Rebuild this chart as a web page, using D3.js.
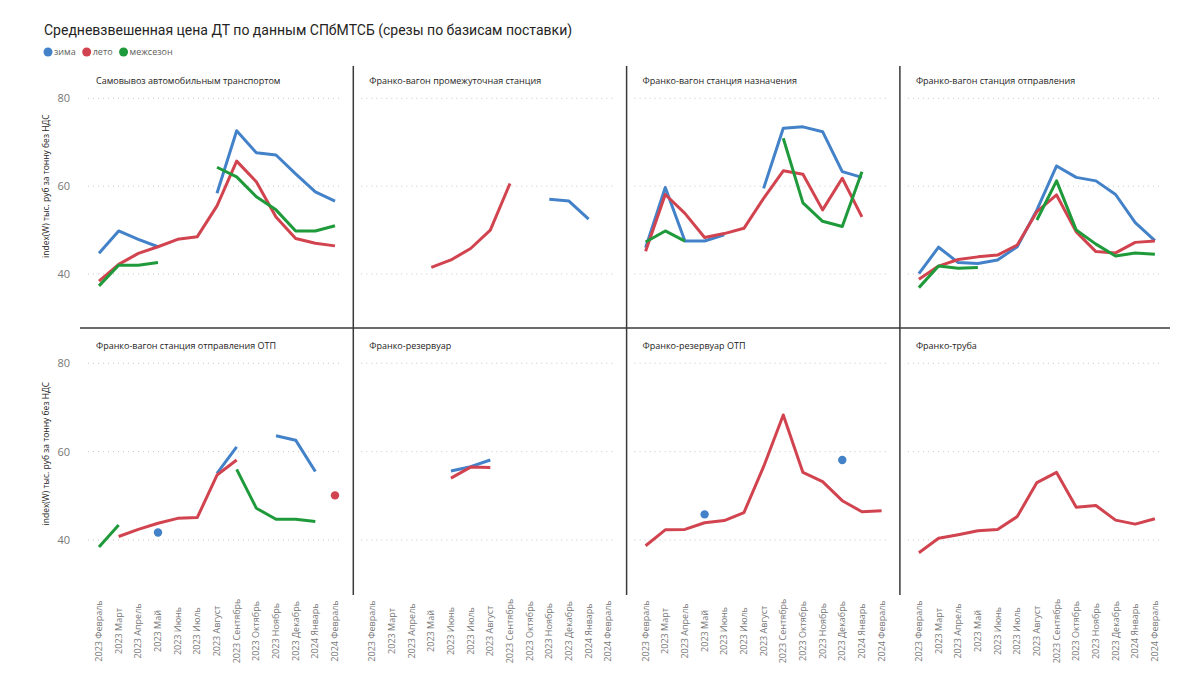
<!DOCTYPE html>
<html>
<head>
<meta charset="utf-8">
<script src="https://cdn.jsdelivr.net/npm/d3@7"></script>
<style>
  body { margin: 0; background: #fff; }
  svg { font-family: "Open Sans", "DejaVu Sans", sans-serif; }
</style>
</head>
<body>
<svg id="root" width="1200" height="694"></svg>
<script>
// months on the x axis
const months = ["2023 Февраль", "2023 Март", "2023 Апрель", "2023 Май", "2023 Июнь", "2023 Июль",
  "2023 Август", "2023 Сентябрь", "2023 Октябрь", "2023 Ноябрь", "2023 Декабрь", "2024 Январь", "2024 Февраль"];

const seasons = ["зима", "лето", "межсезон"];
const yTicks = [40, 60, 80];

const panelTitles = [
  "Самовывоз автомобильным транспортом",
  "Франко-вагон промежуточная станция",
  "Франко-вагон станция назначения",
  "Франко-вагон станция отправления",
  "Франко-вагон станция отправления ОТП",
  "Франко-резервуар",
  "Франко-резервуар ОТП",
  "Франко-труба"
];

// values per panel: зима / лето / межсезон (null = no data)
const p1Zima = [44.7, 49.8, 47.9, 46.2, null, null, 58.4, 72.6, 67.6, 67.1, 62.8, 58.7, 56.6];
const p1Leto = [38.4, 42.2, 44.7, 46.2, 47.9, 48.5, 55.5, 65.7, 61.0, 53.0, 48.1, 47.0, 46.4];
const p1Mezh = [37.3, 42.0, 42.0, 42.6, null, null, 64.3, 62.1, 57.6, 54.6, 49.8, 49.8, 51.0];

const p2Zima = [null, null, null, null, null, null, null, null, null, 57.0, 56.6, 52.5, null];
const p2Leto = [null, null, null, 41.5, 43.2, 45.8, 50.0, 60.6, null, null, null, null, null];
const p2Mezh = [null, null, null, null, null, null, null, null, null, null, null, null, null];

const p3Zima = [46.0, 59.7, 47.5, 47.5, 48.9, null, 59.5, 73.2, 73.5, 72.4, 63.3, 62.0, null];
const p3Leto = [45.2, 58.1, 53.8, 48.3, 49.2, 50.4, 57.2, 63.5, 62.7, 54.6, 61.8, 53.0, null];
const p3Mezh = [47.3, 49.8, 47.5, null, null, null, null, 70.9, 56.2, 52.0, 50.8, 63.3, null];

const p4Zima = [40.1, 46.1, 42.6, 42.4, 43.2, 46.2, 54.6, 64.6, 62.0, 61.2, 58.1, 51.7, 47.6];
const p4Leto = [38.8, 41.8, 43.3, 43.9, 44.3, 46.6, 54.2, 58.0, 49.6, 45.1, 44.8, 47.2, 47.5];
const p4Mezh = [36.9, 41.8, 41.3, 41.5, null, null, 52.3, 61.2, 50.0, 46.8, 44.1, 44.8, 44.5];

const p5Zima = [null, null, null, 41.7, null, null, 55.1, 61.1, null, 63.6, 62.6, 55.5, null];
const p5Leto = [null, 40.8, 42.4, 43.8, 44.9, 45.1, 54.7, 58.1, null, null, null, null, 50.1];
const p5Mezh = [38.4, 43.4, null, null, null, null, null, 56.0, 47.2, 44.7, 44.7, 44.2, null];

const p6Zima = [null, null, null, null, 55.6, 56.6, 58.1, null, null, null, null, null, null];
const p6Leto = [null, null, null, null, 54.0, 56.5, 56.4, null, null, null, null, null, null];
const p6Mezh = [null, null, null, null, null, null, null, null, null, null, null, null, null];

const p7Zima = [null, null, null, 45.8, null, null, null, null, null, null, 58.1, null, null];
const p7Leto = [38.7, 42.3, 42.4, 43.9, 44.4, 46.2, 56.6, 68.3, 55.3, 53.2, 48.9, 46.4, 46.6];
const p7Mezh = [null, null, null, null, null, null, null, null, null, null, null, null, null];

const p8Zima = [null, null, null, null, null, null, null, null, null, null, null, null, null];
const p8Leto = [37.1, 40.4, 41.2, 42.1, 42.4, 45.3, 53.0, 55.3, 47.4, 47.8, 44.5, 43.6, 44.8];
const p8Mezh = [null, null, null, null, null, null, null, null, null, null, null, null, null];

const panelSeries = [
  [p1Zima, p1Leto, p1Mezh], [p2Zima, p2Leto, p2Mezh], [p3Zima, p3Leto, p3Mezh], [p4Zima, p4Leto, p4Mezh],
  [p5Zima, p5Leto, p5Mezh], [p6Zima, p6Leto, p6Mezh], [p7Zima, p7Leto, p7Mezh], [p8Zima, p8Leto, p8Mezh]
];

const color = d3.scaleOrdinal().domain(seasons).range(["#4382c9", "#d1444f", "#1f9a3b"]);

const svg = d3.select("#root");
const colW = 273.3;
const gridLeft = 80;
const rows = [{ top: 66, bottom: 328, y80: 98.3, y40: 274 }, { top: 328, bottom: 595, y80: 363.3, y40: 540 }];

// title + legend
svg.append("text").attr("x", 44).attr("y", 35).attr("font-size", 14).attr("fill", "#252423")
  .attr("font-family", "Roboto, Open Sans, sans-serif")
  .text("Средневзвешенная цена ДТ по данным СПбМТСБ (срезы по базисам поставки)");

const legend = svg.append("g").attr("transform", "translate(48,52)");
let lx = 0;
seasons.forEach((s) => {
  legend.append("circle").attr("cx", lx).attr("cy", 0).attr("r", 4.5).attr("fill", color(s));
  const t = legend.append("text").attr("x", lx + 6).attr("y", 3).attr("font-size", 9).attr("fill", "#605e5c").text(s);
  lx += t.node().getComputedTextLength() + 17;
});

panelTitles.forEach((title, p) => {
  const c = p % 4, r = Math.floor(p / 4);
  const row = rows[r];
  const left = gridLeft + c * colW;

  const x = d3.scalePoint().domain(months).range([left + 19, left + 255]);
  const y = d3.scaleLinear().domain([40, 80]).range([row.y40, row.y80]);

  const g = svg.append("g");

  // dotted gridlines
  g.selectAll(".grid").data(yTicks).enter().append("line")
    .attr("x1", left + 8).attr("x2", left + 263)
    .attr("y1", (d) => y(d)).attr("y2", (d) => y(d))
    .attr("stroke", "#c8c6c4").attr("stroke-width", 1).attr("stroke-dasharray", "1,4");

  g.append("text").attr("x", left + 16).attr("y", row.top + (r === 0 ? 18 : 21))
    .attr("font-size", 9).attr("fill", "#252423").text(title);

  // y axis only on first column
  if (c === 0) {
    const ya = d3.axisLeft(y).tickValues(yTicks).tickSize(0).tickPadding(8);
    svg.append("g").attr("transform", `translate(${left - 2},0)`).call(ya)
      .call((a) => a.select(".domain").remove())
      .selectAll("text").attr("font-size", 11).attr("fill", "#777")
      .attr("font-family", "Open Sans, DejaVu Sans, sans-serif");
    svg.append("text")
      .attr("transform", `translate(49,${(row.y80 + row.y40) / 2 + (r === 0 ? 0 : 2)}) rotate(-90)`)
      .attr("text-anchor", "middle").attr("font-size", 8.5).attr("fill", "#252423")
      .text("index(W) тыс. руб за тонну без НДС");
  }

  // x axis labels on bottom row
  if (r === 1) {
    svg.append("g").selectAll("text").data(months).enter().append("text")
      .attr("transform", (d) => `translate(${x(d) + 3},631) rotate(-90)`)
      .attr("text-anchor", "middle").attr("font-size", 9).attr("fill", "#777").text((d) => d);
  }

  const line = d3.line().defined((d) => d.v !== null).x((d) => x(d.m)).y((d) => y(d.v));

  panelSeries[p].forEach((vals, si) => {
    const pts = vals.map((v, i) => ({ m: months[i], v: v }));
    g.append("path").datum(pts).attr("d", line).attr("fill", "none")
      .attr("stroke", color(seasons[si])).attr("stroke-width", 3).attr("stroke-linejoin", "round");
    // isolated points show as dots
    const lone = pts.filter((d, i) => d.v !== null &&
      (i === 0 || vals[i - 1] === null) && (i === vals.length - 1 || vals[i + 1] === null));
    g.selectAll(null).data(lone).enter().append("circle")
      .attr("cx", (d) => x(d.m)).attr("cy", (d) => y(d.v)).attr("r", 4.2)
      .attr("fill", color(seasons[si]));
  });
});

// panel dividers
const divider = "#3b3a39";
[1, 2, 3].forEach((c) => {
  rows.forEach((row) => {
    svg.append("line").attr("x1", gridLeft + c * colW).attr("x2", gridLeft + c * colW)
      .attr("y1", row.top).attr("y2", row.bottom).attr("stroke", divider).attr("stroke-width", 1.5);
  });
});
svg.append("line").attr("x1", gridLeft).attr("x2", 1170).attr("y1", 328).attr("y2", 328)
  .attr("stroke", divider).attr("stroke-width", 1.5);
</script>
</body>
</html>
